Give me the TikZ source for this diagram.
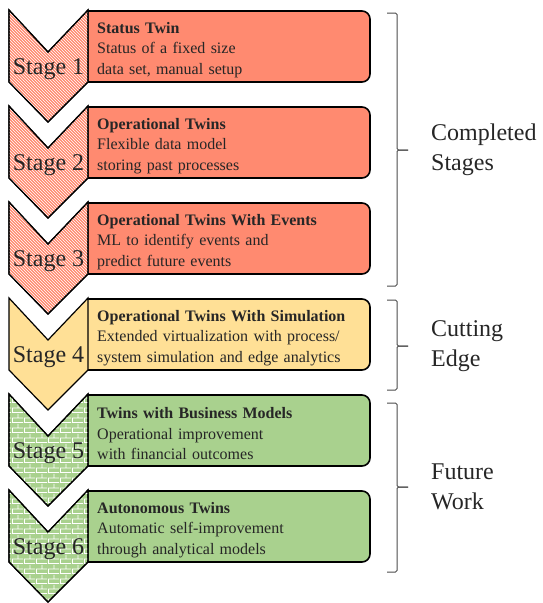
\documentclass[tikz,border=0pt]{standalone}
\usepackage{fontspec}
\setmainfont{Liberation Serif}
\usetikzlibrary{patterns}

\definecolor{done}{RGB}{255,138,112}
\definecolor{edge}{RGB}{255,224,150}
\definecolor{future}{RGB}{169,209,142}

\newcommand\widewords{\spaceskip=0.33em plus 0.1em\relax}

% larger bricks than the library ones
\pgfdeclarepatternformonly{wallbricks}{\pgfpointorigin}{\pgfqpoint{12pt}{10pt}}{\pgfqpoint{12pt}{10pt}}{
  \pgfsetlinewidth{0.9pt}
  \pgfpathmoveto{\pgfqpoint{0pt}{0.5pt}}\pgfpathlineto{\pgfqpoint{12pt}{0.5pt}}
  \pgfpathmoveto{\pgfqpoint{0pt}{5.5pt}}\pgfpathlineto{\pgfqpoint{12pt}{5.5pt}}
  \pgfpathmoveto{\pgfqpoint{0.5pt}{0pt}}\pgfpathlineto{\pgfqpoint{0.5pt}{5.5pt}}
  \pgfpathmoveto{\pgfqpoint{6.5pt}{5.5pt}}\pgfpathlineto{\pgfqpoint{6.5pt}{10pt}}
  \pgfusepath{stroke}}

\tikzset{
  chevron/.style={draw=black, line width=1.2pt, line join=miter},
  hatch/.style={postaction={pattern=north west lines, pattern color=white},
    postaction={draw=black, line width=1.2pt}},
  brick/.style={postaction={pattern=wallbricks, pattern color=white},
    postaction={draw=black, line width=1.2pt}},
  plain/.style={},
  stagebox/.style={draw=black, line width=1.6pt, rounded corners=8pt},
  stagelabel/.style={font=\fontsize{24}{28}\selectfont, text=black!85, anchor=base, inner sep=0pt},
  stagetext/.style={font=\fontsize{16}{20.5}\selectfont\widewords,
    text=black!85, align=left, anchor=west, inner sep=0pt},
  bracket/.style={draw=black!70, line width=1pt, rounded corners=1.5pt},
  groupname/.style={font=\fontsize{24}{30}\selectfont, text=black!85, align=left, anchor=west, inner sep=0pt}
}

\begin{document}
\begin{tikzpicture}[x=1pt, y=-1pt]
  \useasboundingbox (0,0) rectangle (542,603);

  % stages: chevron + box
  \foreach \i/\col/\pat/\title/\one/\two in {
      1/done/hatch/Status Twin/Status of a fixed size/{data set, manual setup},
      2/done/hatch/Operational Twins/Flexible data model/storing past processes,
      3/done/hatch/Operational Twins With Events/ML to identify events and/predict future events,
      4/edge/plain/Operational Twins With Simulation/{Extended virtualization with process/}/system simulation and edge analytics,
      5/future/brick/Twins with Business Models/Operational improvement/with financial outcomes,
      6/future/brick/Autonomous Twins/Automatic self-improvement/through analytical models}
  {
    \pgfmathsetmacro\t{10+(\i-1)*96}
    \filldraw[stagebox, fill=\col] (88,\t+1) -- (370,\t+1) -- (370,\t+72) -- (88,\t+72);
    \path[chevron, fill=\col, \pat] (9,\t) -- (48,\t+42) -- (88,\t) -- (88,\t+72)
      -- (48,\t+112) -- (9,\t+72) -- cycle;
    \node[stagelabel] (s\i) at (48.5,\t+64) {Stage \i};
    \node[stagetext] (t\i) at (97,\t+40) {\textbf{\title}\\\one\\\two};
  }

  % brackets
  \draw[bracket] (387,13) -- (397,13) -- (397,150) -- (408,150);
  \draw[bracket] (408,150) -- (397,150) -- (397,286) -- (387,286);
  \draw[bracket] (387,300) -- (397,300) -- (397,346) -- (408,346);
  \draw[bracket] (408,346) -- (397,346) -- (397,390) -- (387,390);
  \draw[bracket] (387,403) -- (397,403) -- (397,487) -- (408,487);
  \draw[bracket] (408,487) -- (397,487) -- (397,572) -- (387,572);

  \node[groupname] (g1) at (431,150) {Completed\\Stages};
  \node[groupname] (g2) at (431,346) {Cutting\\Edge};
  \node[groupname] (g3) at (431,487) {Future\\Work};
\end{tikzpicture}
\end{document}
